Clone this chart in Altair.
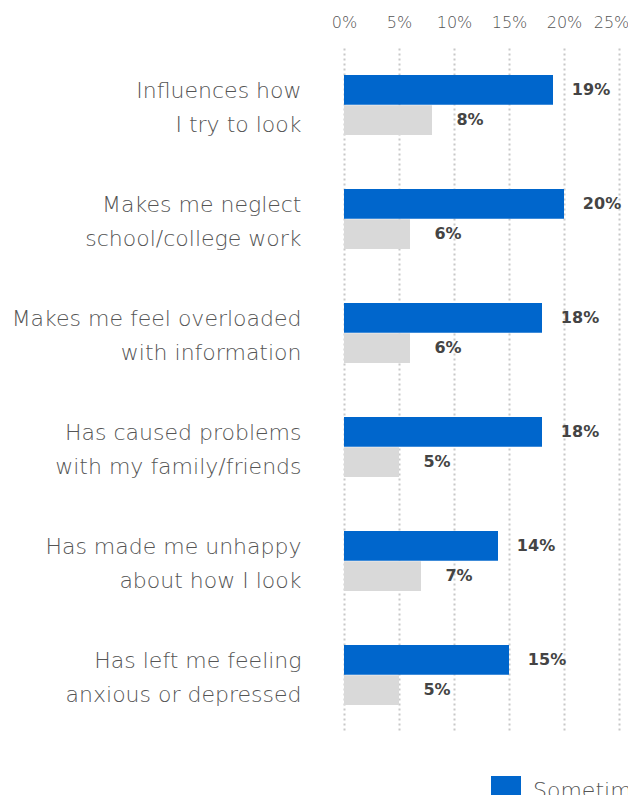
import altair as alt
import pandas as pd

categories = [
    "Influences how|I try to look",
    "Makes me neglect|school/college work",
    "Makes me feel overloaded|with information",
    "Has caused problems|with my family/friends",
    "Has made me unhappy|about how I look",
    "Has left me feeling|anxious or depressed",
]
series = ["Sometimes", "Often"]
sometimes = [19, 20, 18, 18, 14, 15]
often = [8, 6, 6, 5, 7, 5]
x_ticks = [0, 5, 10, 15, 20, 25]
colors = ["#0066CC", "#D9D9D9"]

rows = []
for c, a, b in zip(categories, sometimes, often):
    rows.append({"category": c, "series": series[0], "value": a})
    rows.append({"category": c, "series": series[1], "value": b})
df = pd.DataFrame(rows)

FONT = "DejaVu Sans"

base = alt.Chart(df).encode(
    y=alt.Y("category:N", sort=categories,
            scale=alt.Scale(paddingInner=0.474, paddingOuter=0.237),
            axis=alt.Axis(title=None, ticks=False, domain=False, grid=False,
                          labelExpr="split(datum.label, '|')",
                          labelFontSize=22, labelLineHeight=34, labelFont=FONT,
                          labelFontWeight=200, labelColor="#555555",
                          labelPadding=43, labelLimit=400, labelOffset=-14)),
    yOffset=alt.YOffset("series:N", sort=series, scale=alt.Scale(paddingInner=0.02)),
)

bars = base.mark_bar().encode(
    x=alt.X("value:Q", scale=alt.Scale(domain=[0, 25], nice=False),
            axis=alt.Axis(orient="top", values=x_ticks, title=None, ticks=False,
                          domain=False, labelExpr="datum.value + '%'",
                          labelFontSize=16, labelFont=FONT, labelFontWeight=200,
                          labelColor="#555555", labelPadding=18, labelOverlap=False,
                          labelFlush=False,
                          labelOffset={"condition": {"test": "datum.value == 25", "value": -8},
                                       "value": 0},
                          grid=True, gridDash=[2, 3], gridWidth=2, gridColor="#C8C8C8")),
    color=alt.Color("series:N", sort=series,
                    scale=alt.Scale(domain=series, range=colors),
                    legend=alt.Legend(title=None, orient="none", legendX=147, legendY=728,
                                      direction="horizontal", symbolType="square",
                                      symbolSize=900, symbolStrokeWidth=0, padding=0,
                                      labelFontSize=22, labelFont=FONT, labelFontWeight=200,
                                      labelColor="#555555", labelOffset=12, columnPadding=30)),
)

labels = base.mark_text(align="center", baseline="middle", dx=38, fontSize=16,
                        fontWeight="bold", font=FONT, color="#444444").encode(
    x=alt.X("value:Q"),
    text=alt.Text("label:N"),
).transform_calculate(label="datum.value + '%'")

chart = alt.layer(bars, labels).properties(
    width=275, height=684,
    autosize=alt.AutoSizeParams(type="none"),
    padding={"left": 336, "top": 40, "right": 9, "bottom": 63},
).configure_view(stroke=None)

chart.save("out.html", embed_options={"renderer": "svg", "actions": False})
